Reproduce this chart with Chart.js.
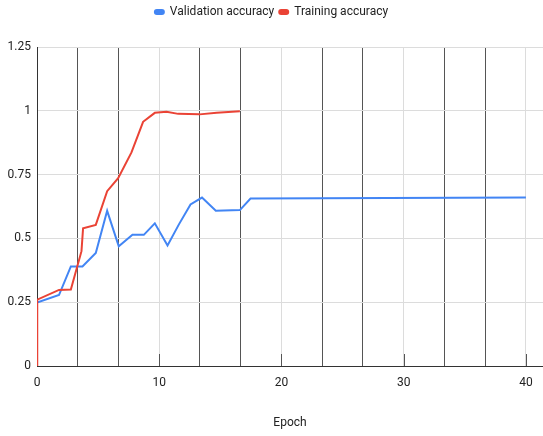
<!DOCTYPE html>
<html>
<head>
<meta charset="utf-8">
<script src="https://cdn.jsdelivr.net/npm/chart.js@4/dist/chart.umd.min.js"></script>
<style>
  html, body { margin: 0; padding: 0; background: #fff; }
  #wrap { width: 543px; height: 436px; }
</style>
</head>
<body>
<div id="wrap"><canvas id="acc-chart" width="543" height="436"></canvas></div>
<script>
// values
var valEpochs = [0, 1.8, 2.77, 3.72, 4.81, 5.74, 6.69, 7.81, 8.74, 9.64, 10.68, 11.6, 12.56, 13.5, 14.63, 16.6, 17.47, 40];
var valAcc = [0.249, 0.278, 0.39, 0.39, 0.443, 0.608, 0.469, 0.514, 0.514, 0.559, 0.472, 0.554, 0.633, 0.66, 0.608, 0.611, 0.656, 0.66];

var trainEpochs = [0, 0.02, 1.8, 2.77, 3.64, 3.77, 4.81, 5.74, 6.64, 7.73, 8.68, 9.64, 10.6, 11.55, 13.3, 14.7, 16.6];
var trainAcc = [0, 0.26, 0.298, 0.30, 0.45, 0.54, 0.553, 0.685, 0.736, 0.837, 0.957, 0.992, 0.996, 0.988, 0.986, 0.992, 0.998];

var yTicks = [0, 0.25, 0.5, 0.75, 1, 1.25];
var xLabelEvery = 10;

(function () {
    'use strict';

    function toPoints(xs, ys) {
        return xs.map(function (x, i) { return { x: x, y: ys[i] }; });
    }

    function isMajor(v) {
        return Math.abs(v / xLabelEvery - Math.round(v / xLabelEvery)) < 1e-6;
    }

    var font = { family: 'Roboto, "Liberation Sans", sans-serif', size: 12 };

    // leave a gap under the legend, like the sheet export does
    var legendGap = {
        id: 'legendGap',
        afterInit: function (chart) {
            var legend = chart.legend;
            if (!legend) return;
            var fit = legend.fit;
            legend.fit = function () {
                fit.apply(this, arguments);
                this.height += 19;
            };
        }
    };

    // short dark tick stubs at the bottom of the labelled gridlines
    var majorStubs = {
        id: 'majorStubs',
        afterDraw: function (chart) {
            var xs = chart.scales.x;
            var area = chart.chartArea;
            var c = chart.ctx;
            c.save();
            c.strokeStyle = '#555';
            c.lineWidth = 1;
            xs.ticks.forEach(function (t) {
                if (t.value === 0 || !isMajor(t.value)) return;
                var px = Math.round(xs.getPixelForValue(t.value)) + 0.5;
                c.beginPath();
                c.moveTo(px, area.bottom - 12);
                c.lineTo(px, area.bottom);
                c.stroke();
            });
            c.restore();
        }
    };

    var ctx = document.getElementById('acc-chart').getContext('2d');

    new Chart(ctx, {
        type: 'line',
        plugins: [legendGap, majorStubs],
        data: {
            datasets: [{
                label: 'Validation accuracy',
                data: toPoints(valEpochs, valAcc),
                borderColor: '#4285f4',
                backgroundColor: '#4285f4',
                borderWidth: 2,
                pointRadius: 0,
                tension: 0,
                order: 1
            }, {
                label: 'Training accuracy',
                data: toPoints(trainEpochs, trainAcc),
                borderColor: '#ea4335',
                backgroundColor: '#ea4335',
                borderWidth: 2,
                pointRadius: 0,
                tension: 0,
                order: 0
            }]
        },
        options: {
            responsive: false,
            animation: false,
            layout: { padding: { top: 1, right: 0, bottom: 0, left: 0 } },
            plugins: {
                legend: {
                    display: true,
                    position: 'top',
                    labels: {
                        color: '#222',
                        font: font,
                        boxWidth: 9,
                        boxHeight: 4,
                        useBorderRadius: true,
                        borderRadius: 2,
                        padding: 5,
                        sort: function (a, b) { return a.datasetIndex - b.datasetIndex; }
                    }
                },
                tooltip: { enabled: false }
            },
            scales: {
                x: {
                    type: 'linear',
                    min: 0,
                    max: 41.4,
                    afterBuildTicks: function (scale) {
                        var ticks = [];
                        for (var k = 0; k <= 12; k++) {
                            ticks.push({ value: (k * 10) / 3 });
                        }
                        scale.ticks = ticks;
                    },
                    afterFit: function (scale) { scale.height = 70; },
                    border: { display: true, color: '#333', width: 1 },
                    grid: {
                        drawTicks: false,
                        color: function (c) {
                            if (!c.tick) return '#ddd';
                            return isMajor(c.tick.value) ? '#dcdcdc' : '#555';
                        },
                        lineWidth: 1
                    },
                    ticks: {
                        color: '#222',
                        font: font,
                        padding: 10,
                        maxRotation: 0,
                        autoSkip: false,
                        callback: function (v) {
                            return isMajor(v) ? String(Math.round(v)) : '';
                        }
                    },
                    title: {
                        display: true,
                        text: 'Epoch',
                        color: '#222',
                        font: font,
                        padding: { top: 0, bottom: 6 }
                    }
                },
                y: {
                    min: 0,
                    max: 1.25,
                    afterBuildTicks: function (scale) {
                        scale.ticks = yTicks.map(function (v) { return { value: v }; });
                    },
                    afterFit: function (scale) { scale.width = 37; },
                    border: { display: true, color: '#333', width: 1 },
                    grid: { drawTicks: false, color: '#dcdcdc', lineWidth: 1 },
                    ticks: {
                        color: '#222',
                        font: font,
                        padding: 6,
                        callback: function (v) { return String(v); }
                    }
                }
            }
        }
    });
})();
</script>
</body>
</html>
